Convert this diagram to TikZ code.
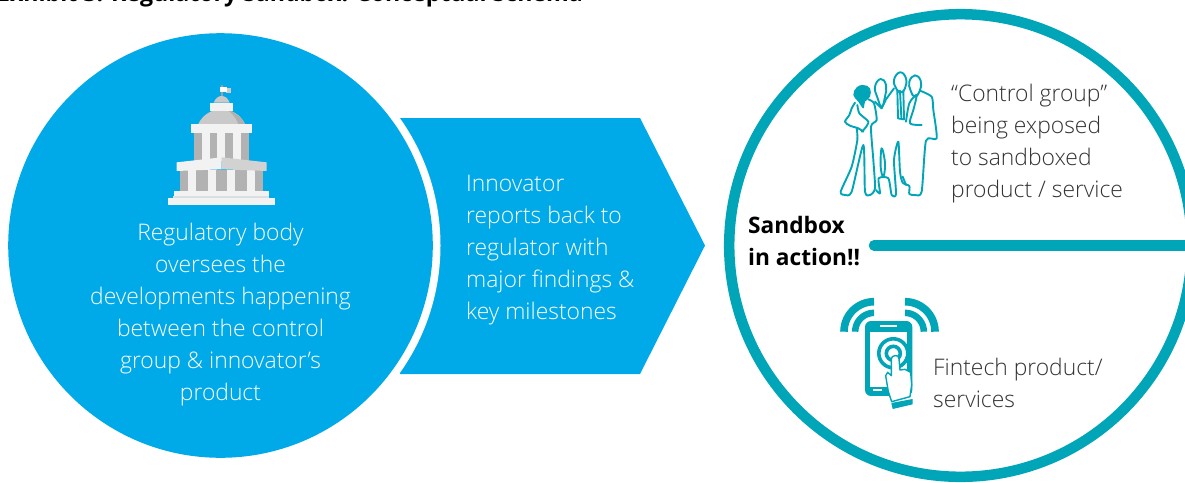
\documentclass[tikz,border=0pt]{standalone}
\usepackage{fontspec}
\setmainfont{Open Sans}
\newfontfamily\lightf{Open Sans Light}
\definecolor{skyb}{HTML}{00A9E8}
\definecolor{tealb}{HTML}{00A5B8}
\definecolor{txtd}{HTML}{333333}
\tikzset{
  body/.style={font=\lightf\fontsize{22.85}{32}\selectfont,inner sep=0pt},
  onblue/.style={body,text=white},
  ondark/.style={body,text=txtd},
  pplline/.style={draw=tealb,line width=1.9pt,fill=none,line join=round,line cap=round},
  zoomA/.style={shift={(140,70)},x=0.3333pt,y=-0.3333pt},
  zoomB/.style={shift={(820,60)},x=0.3333pt,y=-0.3333pt},
  zoomC/.style={shift={(820,285)},x=0.3333pt,y=-0.3333pt},
}
\begin{document}
\begin{tikzpicture}[x=1pt,y=-1pt]
\useasboundingbox (0,0) rectangle (1185,482);
\clip (0,0) rectangle (1185,482);
\fill[white] (0,0) rectangle (1185,482);
% title
\node[anchor=base west,inner sep=0pt,font=\fontsize{23.1}{26}\selectfont\bfseries,text=black] (title) at (-3,1.5) {Exhibit 3: Regulatory Sandbox: Conceptual Schema};
% arrow
\fill[skyb] (400,118) -- (640,118) -- (705,245.5) -- (640,374) -- (400,374) -- cycle;
% left circle
\fill[white] (220.5,245.5) circle[radius=220];
\fill[skyb] (220.5,245.5) circle[radius=212.3];
% right ring
\draw[tealb,line width=10.5pt] (960.5,245.5) circle[radius=231.3];
\draw[tealb,line width=10.5pt,line cap=round] (874,245.3) -- (1195,245.3);
% building
\begin{scope}[zoomA]
\fill[gray!60] (120,300) rectangle (368,363);
\foreach \a in {144,204,261,321} \fill[white!95!black] (\a,300) rectangle (\a+24,363);
\fill[gray!60] (162,189) rectangle (327,272);
\foreach \a in {186,231,279} \fill[white!95!black] (\a,189) rectangle (\a+24,272);
\fill[gray!42] (175,162) .. controls (190,130) and (220,118) .. (245,118) .. controls (270,118) and (300,130) .. (315,162) -- cycle;
\fill[gray!62] (262,120) .. controls (285,126) and (303,140) .. (315,162) -- (295,162) .. controls (288,142) and (275,128) .. (262,120) -- cycle;
\fill[white!95!black] (153,162) rectangle (336,189);
\fill[gray!42] (221,98) .. controls (226,84) and (236,78) .. (245,78) .. controls (254,78) and (264,84) .. (269,98) -- cycle;
\fill[white!95!black] (211,98) rectangle (278,122);
\fill[gray!75] (242,45) rectangle (248,78);
\fill[gray!40] (258,54) rectangle (273,69);
\fill[white] (240,50) rectangle (262,66);
\fill[white!95!black] (110,277) -- (245,262) -- (245,298) -- (110,303) -- cycle;
\fill[gray!35] (245,262) -- (380,277) -- (380,303) -- (245,298) -- cycle;
\fill[cyan!10!gray!30] (100,378) rectangle (387,386);
\fill[white!95!black] (102,363) rectangle (387,379);
\fill[white!95!black] (84,385) rectangle (404,406);
\end{scope}
% people
\begin{scope}[zoomB]
\fill[tealb] plot[smooth cycle,tension=0.7] coordinates {(100,105) (110,82) (130,75) (150,85) (150,110) (135,125) (130,145) (115,125)};
\draw[pplline] plot[smooth,tension=0.5] coordinates {(105,128) (95,145) (88,165) (75,185) (90,197) (115,205) (130,215)};
\draw[pplline] plot[smooth,tension=0.4] coordinates {(112,135) (118,160) (145,185) (135,205) (125,215)};
\draw[pplline] plot[smooth,tension=0.4] coordinates {(110,205) (112,240) (95,320) (62,395) (75,405) (95,395) (130,255) (135,395) (150,405) (165,385) (160,300) (153,200) (170,180) (162,130) (145,118)};
\draw[pplline] plot[smooth cycle,tension=0.8] coordinates {(165,80) (182,57) (198,75) (195,110) (185,140) (172,112)};
\draw[pplline] plot[smooth cycle,tension=0.8] coordinates {(222,60) (240,37) (258,55) (255,85) (243,97) (230,88)};
\draw[pplline] plot[smooth cycle,tension=0.8] coordinates {(268,65) (285,46) (302,62) (300,90) (285,110) (272,92)};
\draw[pplline] (165,125) -- (185,145) -- (198,118) -- (222,85);
\draw[pplline] (232,90) -- (234,175) -- (252,178) -- (250,92);
\draw[pplline] (240,92) -- (244,172);
\draw[pplline] plot[smooth,tension=0.5] coordinates {(258,185) (268,130) (290,105) (280,150) (270,190) (305,195)};
\draw[pplline] plot[smooth,tension=0.4] coordinates {(300,92) (335,110) (340,150) (350,235) (318,242) (305,395) (285,405) (268,402) (268,378) (248,368) (240,335) (235,245) (222,300) (228,402) (215,405) (205,355) (176,355) (180,400) (168,390)};
\draw[pplline] plot[smooth cycle,tension=0.7] coordinates {(185,265) (195,310) (190,350) (182,320)};
\draw[pplline] (258,375) -- (248,350);
\end{scope}
% phone
\begin{scope}[zoomC]
\fill[tealb,rounded corners=6pt] (135,108) rectangle (277,333);
\fill[white] (150,142) rectangle (262,305);
\fill[white] (180,119) rectangle (230,126);
\fill[white] (160,312) rectangle (187,318);
\end{scope}
\draw[tealb,line width=7.6pt] plot[domain=90:180,samples=30] ({874+30*cos(\x)},{331.7-30*sin(\x)});
\draw[tealb,line width=6.5pt] plot[domain=90:180,samples=30] ({874+18.8*cos(\x)},{331.7-18.8*sin(\x)});
\draw[tealb,line width=7.6pt] plot[domain=0:90,samples=30] ({905+30*cos(\x)},{331.7-30*sin(\x)});
\draw[tealb,line width=6.5pt] plot[domain=0:90,samples=30] ({905+18.8*cos(\x)},{331.7-18.8*sin(\x)});
\draw[tealb,line width=3.6pt] (893.3,353.3) circle[radius=14.5];
\draw[tealb,line width=3.6pt] (893.3,353.3) circle[radius=7];
\begin{scope}[zoomC]
\draw[tealb,fill=white,line width=1.4pt,line join=round] (225,212) .. controls (232,210) and (237,214) .. (237,222) -- (240,255) -- (255,253) -- (272,262) -- (275,300) -- (270,335) -- (215,350) -- (205,320) -- (197,272) -- (203,262) -- (214,272) -- (214,222) .. controls (214,216) and (219,212) .. (225,212) -- cycle;
\fill[tealb] (214,354) -- (278,342) -- (278,358) -- (218,372) -- cycle;
\end{scope}
% texts
\node[onblue,align=center] (reg) at (220.5,315) {Regulatory body\\oversees the\\developments happening\\between the control\\group \& innovator’s\\product};
\node[onblue,align=left,anchor=west] (inn) at (466,250) {Innovator\\reports back to\\regulator with\\major findings \&\\key milestones};
\node[ondark,align=left,anchor=west] (ctrl) at (951,144) {“Control group”\\being exposed\\to sandboxed\\product / service};
\node[ondark,align=left,anchor=west] (fin) at (933,383) {Fintech product/\\services};
\node[body,font=\fontsize{22.7}{32}\selectfont\bfseries,text=black,align=left,anchor=west] (sbx) at (748,241) {Sandbox\\in action!!};
\end{tikzpicture}
\end{document}
